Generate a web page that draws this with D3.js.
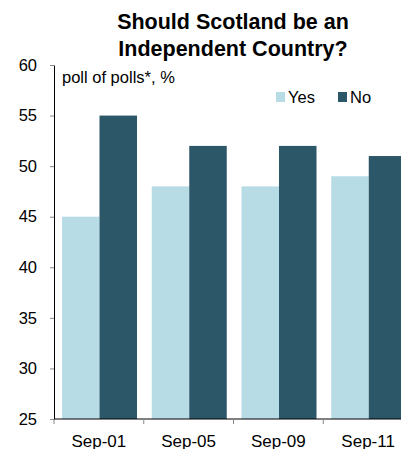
<!DOCTYPE html>
<html lang="en">
<head>
  <meta charset="UTF-8">
  <title>Should Scotland be an Independent Country?</title>
  <script src="https://cdn.jsdelivr.net/npm/d3@7/dist/d3.min.js"></script>
  <style>
    body { margin: 0; background: #fff; }
    svg { font-family: "Liberation Sans", Arial, sans-serif; }
  </style>
</head>
<body>
  <svg id="chart" width="401" height="449"></svg>
  <script>
    // data
    const categories = ['Sep-01', 'Sep-05', 'Sep-09', 'Sep-11'];
    const series = ['Yes', 'No'];
    const yesValues = [45, 48, 48, 49];
    const noValues = [55, 52, 52, 51];
    const yTicks = [25, 30, 35, 40, 45, 50, 55, 60];

    const colors = { Yes: '#b7dce6', No: '#2c5769' };

    const svg = d3.select('#chart');
    const width = +svg.attr('width');

    const plotLeft = 54, plotTop = 65, plotBottom = 419;

    const y = d3.scaleLinear().domain([25, 60]).range([plotBottom, plotTop]);
    const x0 = d3.scaleBand().domain(categories).range([plotLeft, plotLeft + 4 * 89.75]);
    const x1 = d3.scaleBand().domain(series).range([8, 83]);

    const rows = categories.map((c, i) => ({ cat: c, Yes: yesValues[i], No: noValues[i] }));

    // bars
    const groups = svg.append('g').selectAll('g').data(rows)
      .join('g')
        .attr('transform', d => `translate(${x0(d.cat)},0)`);
    groups.selectAll('rect').data(d => series.map(s => ({ key: s, value: d[s] })))
      .join('rect')
        .attr('x', d => x1(d.key))
        .attr('y', d => y(d.value))
        .attr('width', x1.bandwidth())
        .attr('height', d => plotBottom - y(d.value))
        .attr('fill', d => colors[d.key]);

    // y axis
    const yAxis = svg.append('g')
      .attr('transform', `translate(${plotLeft},0)`)
      .call(d3.axisLeft(y).tickValues(yTicks).tickSize(4).tickSizeOuter(0).tickPadding(13));
    yAxis.select('.domain').attr('stroke', '#000');
    yAxis.selectAll('.tick line').attr('stroke', '#888');
    yAxis.selectAll('text').attr('font-size', 16.5).attr('fill', '#000')
      .attr('font-family', '"Liberation Sans", Arial, sans-serif');

    // x axis: line, boundary ticks and labels
    const xAxis = svg.append('g');
    xAxis.append('line')
      .attr('x1', plotLeft).attr('x2', width)
      .attr('y1', plotBottom).attr('y2', plotBottom)
      .attr('stroke', '#000');
    xAxis.selectAll('.xtick').data(categories)
      .join('line')
        .attr('class', 'xtick')
        .attr('x1', d => x0(d)).attr('x2', d => x0(d))
        .attr('y1', plotBottom).attr('y2', plotBottom + 5)
        .attr('stroke', '#888');
    xAxis.selectAll('.xlabel').data(categories)
      .join('text')
        .attr('class', 'xlabel')
        .attr('x', d => x0(d) + x0.bandwidth() / 2)
        .attr('y', 447)
        .attr('text-anchor', 'middle')
        .attr('font-size', 17)
        .text(d => d);

    // title
    const title = svg.append('text')
      .attr('text-anchor', 'middle')
      .attr('font-size', 21.5)
      .attr('font-weight', 'bold');
    title.append('tspan').attr('x', 233).attr('y', 29).text('Should Scotland be an');
    title.append('tspan').attr('x', 233).attr('y', 56).text('Independent Country?');

    svg.append('text')
      .attr('x', 62).attr('y', 83)
      .attr('font-size', 16.5)
      .text('poll of polls*, %');

    // legend
    const legendX = [276, 338];
    const legend = svg.append('g').selectAll('g').data(series)
      .join('g')
        .attr('transform', (d, i) => `translate(${legendX[i]},92)`);
    legend.append('rect')
      .attr('width', 9).attr('height', 10)
      .attr('fill', d => colors[d]);
    legend.append('text')
      .attr('x', 12).attr('y', 10.5)
      .attr('font-size', 16.5)
      .text(d => d);
  </script>
</body>
</html>
